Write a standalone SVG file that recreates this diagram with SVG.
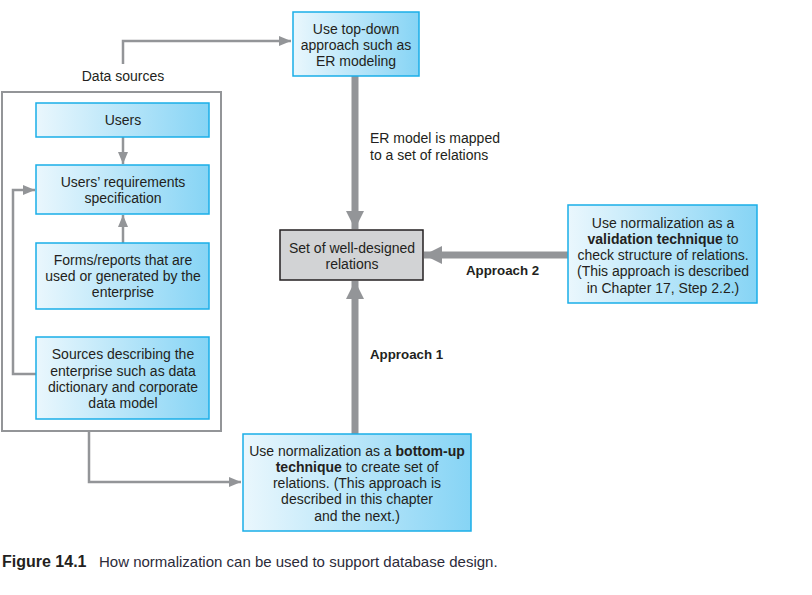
<svg xmlns="http://www.w3.org/2000/svg" width="812" height="595" viewBox="0 0 812 595">
<style>
text{font-family:"Liberation Sans",Arial,sans-serif;font-size:14px;fill:#231f20}
.c{text-anchor:middle}
.b{font-weight:bold}
.lab{font-size:13.3px}
.node{fill:url(#g);stroke:#1aaee8;stroke-width:1.5}
.thin{fill:none;stroke:#939598;stroke-width:2.5}
.thick{fill:none;stroke:#939598;stroke-width:7}
</style>
<defs>
<linearGradient id="g" x1="0" y1="0" x2="1" y2="0">
<stop offset="0" stop-color="#eaf7fd"/>
<stop offset="1" stop-color="#86d4f5"/>
</linearGradient>
<marker id="ah" markerUnits="userSpaceOnUse" markerWidth="12" markerHeight="10" refX="12" refY="5" orient="auto">
<path d="M0,0 L12,5 L0,10 Z" fill="#939598"/>
</marker>
<marker id="AH" markerUnits="userSpaceOnUse" markerWidth="18" markerHeight="18" refX="18" refY="9" orient="auto">
<path d="M0,0 L18,9 L0,18 Z" fill="#939598"/>
</marker>
</defs>
<g id="connectors">
<path class="thin" d="M123,64 V41 H291" marker-end="url(#ah)"/>
<path class="thin" d="M123,137 V164" marker-end="url(#ah)"/>
<path class="thin" d="M123,243 V215" marker-end="url(#ah)"/>
<path class="thin" d="M36,374 H13 V190 H35" marker-end="url(#ah)"/>
<path class="thin" d="M89,431 V482 H241" marker-end="url(#ah)"/>
<path class="thick" d="M355,76 V229" marker-end="url(#AH)"/>
<path class="thick" d="M355,434 V281" marker-end="url(#AH)"/>
<path class="thick" d="M568,255 H424" marker-end="url(#AH)"/>
<text x="370" y="143">ER model is mapped</text>
<text x="370" y="160">to a set of relations</text>
<text x="370" y="359" class="b lab">Approach 1</text>
<text x="466" y="275" class="b lab">Approach 2</text>
<text x="123" y="81" class="c">Data sources</text>
</g>
<g id="outer"><rect x="2" y="92" width="219" height="339" fill="none" stroke="#939598" stroke-width="2"/></g>
<g id="n-topdown"><rect class="node" x="293" y="12" width="126" height="64"/>
<text class="c" x="356" y="34">Use top-down</text><text class="c" x="356" y="50">approach such as</text><text class="c" x="356" y="66">ER modeling</text></g>
<g id="n-users"><rect class="node" x="36" y="103" width="173" height="34"/><text class="c" x="123" y="125">Users</text></g>
<g id="n-req"><rect class="node" x="36" y="165" width="173" height="49"/>
<text class="c" x="123" y="187">Users’ requirements</text><text class="c" x="123" y="203">specification</text></g>
<g id="n-forms"><rect class="node" x="36" y="243" width="173" height="66"/>
<text class="c" x="123" y="265">Forms/reports that are</text><text class="c" x="123" y="281">used or generated by the</text><text class="c" x="123" y="297">enterprise</text></g>
<g id="n-sources"><rect class="node" x="36" y="337" width="173" height="82"/>
<text class="c" x="123" y="359">Sources describing the</text><text class="c" x="123" y="376">enterprise such as data</text><text class="c" x="123" y="392">dictionary and corporate</text><text class="c" x="123" y="408">data model</text></g>
<g id="n-set"><rect x="280" y="230" width="143" height="50" fill="#d2d3d5" stroke="#231f20" stroke-width="1.5"/>
<text class="c" x="352" y="253">Set of well-designed</text><text class="c" x="352" y="269">relations</text></g>
<g id="n-valid"><rect class="node" x="568" y="205" width="189" height="98"/>
<text class="c" x="663" y="228">Use normalization as a</text>
<text class="c" x="663" y="244"><tspan class="b">validation technique</tspan> to</text>
<text class="c" x="663" y="260">check structure of relations.</text>
<text class="c" x="663" y="276">(This approach is described</text>
<text class="c" x="663" y="293">in Chapter 17, Step 2.2.)</text></g>
<g id="n-bottomup"><rect class="node" x="243" y="434" width="228" height="97"/>
<text class="c" x="357" y="456">Use normalization as a <tspan class="b">bottom-up</tspan></text>
<text class="c" x="357" y="472"><tspan class="b">technique</tspan> to create set of</text>
<text class="c" x="357" y="488">relations. (This approach is</text>
<text class="c" x="357" y="504">described in this chapter</text>
<text class="c" x="357" y="521">and the next.)</text></g>
<g id="caption">
<text x="2" y="567" class="b" style="font-size:16px">Figure 14.1</text>
<text x="99" y="567" style="font-size:15px;fill:#2b2b3a">How normalization can be used to support database design.</text>
</g>
</svg>
